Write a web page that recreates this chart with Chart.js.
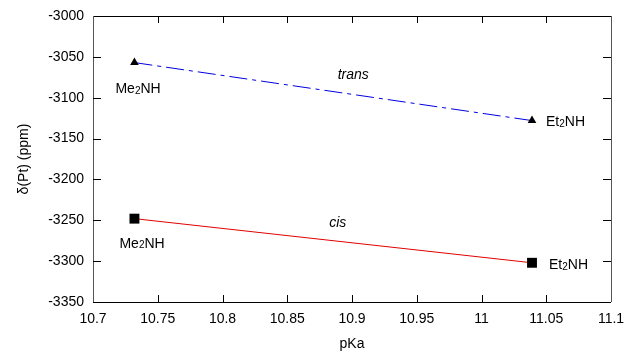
<!DOCTYPE html>
<html>
<head>
<meta charset="utf-8">
<script src="https://cdn.jsdelivr.net/npm/chart.js@4.4.1/dist/chart.umd.min.js"></script>
<style>
	html, body { margin: 0; padding: 0; background: #fff; }
	#wrap { width: 626px; height: 355px; }
</style>
</head>
<body>
<div id="wrap"><canvas id="chart-canvas"></canvas></div>
<script>
// data
const pka_values = [10.732, 11.039]
const trans_shift = [-3057, -3128]
const cis_shift = [-3248, -3302]
const x_ticks = [10.7, 10.75, 10.8, 10.85, 10.9, 10.95, 11, 11.05, 11.1]
const y_ticks = [-3000, -3050, -3100, -3150, -3200, -3250, -3300, -3350]

// text notes: [main, sub, rest, x value, y value, dx, dy, align, italic]
const notes = [
	['Me', '2', 'NH', 10.732, -3057, -19, 27, 'left', false],
	['Et', '2', 'NH', 11.039, -3128, 14, 2, 'left', false],
	['trans', '', '', 10.901, -3072, 0, 0, 'center', true],
	['Me', '2', 'NH', 10.732, -3248, -15, 25, 'left', false],
	['Et', '2', 'NH', 11.039, -3302, 17, 2, 'left', false],
	['cis', '', '', 10.889, -3253, 0, 0, 'center', true]
]

const font_family = '"Liberation Sans", Arial, Helvetica, sans-serif'

const frame_plugin = {
	id: 'frame',
	afterDatasetsDraw(chart) {
		let ctx = chart.ctx
		let area = chart.chartArea
		let x = chart.scales.x
		let y = chart.scales.y
		ctx.save()
		ctx.lineWidth = 1
		ctx.strokeStyle = '#000'
		// top and bottom
		ctx.beginPath()
		ctx.moveTo(area.left, area.top + 0.5)
		ctx.lineTo(area.right, area.top + 0.5)
		ctx.moveTo(area.left, area.bottom + 0.5)
		ctx.lineTo(area.right, area.bottom + 0.5)
		ctx.stroke()
		ctx.strokeStyle = '#555'
		ctx.beginPath()
		ctx.moveTo(area.left + 0.5, area.top)
		ctx.lineTo(area.left + 0.5, area.bottom)
		ctx.moveTo(area.right + 0.5, area.top)
		ctx.lineTo(area.right + 0.5, area.bottom)
		ctx.stroke()
		// inward ticks
		ctx.strokeStyle = '#000'
		ctx.beginPath()
		for (let i = 1; i < x_ticks.length - 1; i ++) {
			let px = Math.round(x.getPixelForValue(x_ticks[i])) + 0.5
			ctx.moveTo(px, area.bottom)
			ctx.lineTo(px, area.bottom - 7)
			ctx.moveTo(px, area.top)
			ctx.lineTo(px, area.top + 7)
		}
		for (let i = 1; i < y_ticks.length - 1; i ++) {
			let py = Math.round(y.getPixelForValue(y_ticks[i])) + 0.5
			ctx.moveTo(area.left, py)
			ctx.lineTo(area.left + 8, py)
			ctx.moveTo(area.right, py)
			ctx.lineTo(area.right - 8, py)
		}
		ctx.stroke()

		// notes
		ctx.fillStyle = '#000'
		ctx.textBaseline = 'middle'
		for (let i = 0; i < notes.length; i ++) {
			let [main, sub, rest, vx, vy, dx, dy, align, italic] = notes[i]
			let px = x.getPixelForValue(vx) + dx
			let py = y.getPixelForValue(vy) + dy
			let big = (italic ? 'italic ' : '') + '14px ' + font_family
			let small = '10px ' + font_family
			ctx.font = big
			let w1 = ctx.measureText(main).width
			let w3 = ctx.measureText(rest).width
			ctx.font = small
			let w2 = ctx.measureText(sub).width
			let start = align == 'center' ? px - (w1 + w2 + w3) / 2 : px
			ctx.textAlign = 'left'
			ctx.font = big
			ctx.fillText(main, start, py)
			ctx.font = small
			ctx.fillText(sub, start + w1, py + 2)
			ctx.font = big
			ctx.fillText(rest, start + w1 + w2, py)
		}
		ctx.restore()
	}
}

new Chart(document.getElementById('chart-canvas'), {
	type: 'line',
	data: {
		datasets: [{
			label: 'trans',
			data: pka_values.map((v, i) => ({x: v, y: trans_shift[i]})),
			borderColor: '#0000e0',
			borderWidth: 1,
			borderDash: [18, 5, 4, 5],
			pointStyle: 'triangle',
			pointRadius: 5,
			pointBackgroundColor: '#000',
			pointBorderColor: '#000',
			pointBorderWidth: 0
		}, {
			label: 'cis',
			data: pka_values.map((v, i) => ({x: v, y: cis_shift[i]})),
			borderColor: '#e00000',
			borderWidth: 1,
			pointStyle: 'rect',
			pointRadius: 7,
			pointBackgroundColor: '#000',
			pointBorderColor: '#000',
			pointBorderWidth: 0
		}]
	},
	options: {
		responsive: true,
		maintainAspectRatio: false,
		animation: false,
		layout: { padding: { top: 16, right: 15, left: 0, bottom: 0 } },
		plugins: {
			legend: { display: false },
			tooltip: { enabled: false }
		},
		scales: {
			x: {
				type: 'linear',
				min: 10.7,
				max: 11.1,
				afterBuildTicks: (scale) => { scale.ticks = x_ticks.map(v => ({value: v})) },
				afterFit: (scale) => {
					scale.height = 53
					scale.paddingLeft = 0
					scale.paddingRight = 0
				},
				grid: { display: false, drawTicks: false },
				border: { display: false },
				ticks: {
					color: '#000',
					padding: 9,
					font: { family: font_family, size: 14 },
					callback: (v) => String(Math.round(v * 100) / 100)
				},
				title: {
					display: true,
					text: 'pKa',
					color: '#000',
					padding: { top: 0, bottom: 2 },
					font: { family: font_family, size: 14 }
				}
			},
			y: {
				type: 'linear',
				min: -3350,
				max: -3000,
				afterBuildTicks: (scale) => { scale.ticks = y_ticks.map(v => ({value: v})) },
				afterFit: (scale) => {
					scale.width = 93
					scale.paddingTop = 0
					scale.paddingBottom = 0
				},
				grid: { display: false, drawTicks: false },
				border: { display: false },
				ticks: {
					color: '#000',
					padding: 9,
					font: { family: font_family, size: 14 },
					callback: (v) => String(v)
				},
				title: {
					display: true,
					text: 'δ(Pt) (ppm)',
					color: '#000',
					padding: { top: 16, bottom: 0 },
					font: { family: font_family, size: 14 }
				}
			}
		}
	},
	plugins: [frame_plugin]
})
</script>
</body>
</html>
